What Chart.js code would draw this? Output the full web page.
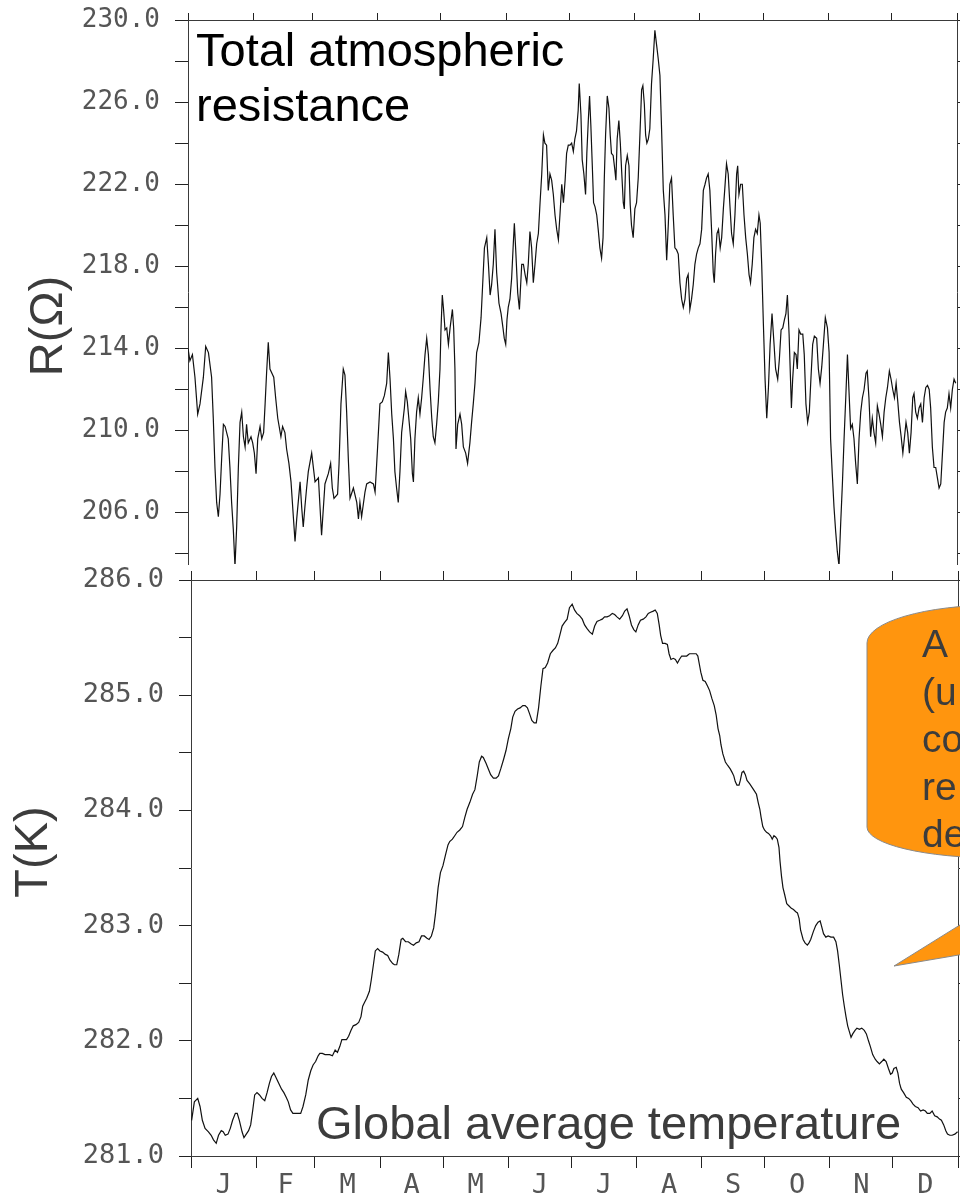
<!DOCTYPE html>
<html>
<head>
<meta charset="utf-8">
<script src="https://cdn.jsdelivr.net/npm/chart.js@4/dist/chart.umd.min.js"></script>
<style>
  html, body { margin: 0; padding: 0; background: #fff; }
  body { width: 960px; height: 1198px; position: relative; overflow: hidden; }
  #resistance { position: absolute; left: 0; top: 0; }
  #temperature { position: absolute; left: 0; top: 560px; }
</style>
</head>
<body>
<canvas id="resistance" width="960" height="580"></canvas>
<canvas id="temperature" width="960" height="638"></canvas>
<script>
// Calendar axis (day of year) shared by both panels
const monthStarts = [0, 31, 59, 90, 120, 151, 181, 212, 243, 273, 304, 334, 365];
const monthMids = [15.5, 45, 74.5, 105, 135.5, 166, 196.5, 227.5, 258, 288.5, 319, 349.5];
const monthLetters = ['J', 'F', 'M', 'A', 'M', 'J', 'J', 'A', 'S', 'O', 'N', 'D'];

// Resistance axis ticks (every 2 Ω, labelled every 4 Ω)
const resistanceTicks = [204, 206, 208, 210, 212, 214, 216, 218, 220, 222, 224, 226, 228, 230];
const resistanceLabelled = [206, 210, 214, 218, 222, 226, 230];

// Temperature axis ticks (every 0.5 K, labelled every 1 K)
const temperatureTicks = [281, 281.5, 282, 282.5, 283, 283.5, 284, 284.5, 285, 285.5, 286];
const temperatureLabelled = [281, 282, 283, 284, 285, 286];

// Total atmospheric resistance, day of year and value (Ω)
const resDay = [
  0, 0.9, 2.1, 3.3, 4.6, 5.7, 7.3, 8.4, 9.7, 11.2, 12.0, 12.8, 13.6, 14.4, 15.2, 16.0, 16.8, 17.6, 19.1, 19.9,
  20.7, 21.5, 22.3, 23.1, 23.9, 24.7, 25.5, 26.3, 27.1, 27.8, 28.6, 29.9, 30.7, 31.5, 32.3, 33.1, 34.2, 35.0, 35.9, 36.6,
  37.3, 38.1, 38.9, 40.7, 41.6, 42.6, 44.1, 44.9, 46.0, 46.8, 47.9, 48.9, 50.0, 50.8, 51.6, 53.2, 54.0, 54.7, 55.5, 56.3,
  57.1, 58.7, 60.3, 61.9, 62.7, 63.4, 65.0, 66.6, 67.7, 68.5, 69.3, 71.0, 71.7, 72.6, 73.7, 74.5, 75.3, 76.1, 76.9, 78.5,
  80.1, 80.9, 81.6, 82.4, 84.0, 84.8, 86.4, 88.0, 88.8, 90.0, 91.1, 92.2, 93.2, 94.3, 95.1, 95.9, 96.7, 97.5, 98.2, 99.0,
  99.8, 100.6, 101.4, 102.7, 103.3, 104.1, 105.7, 106.5, 107.0, 107.7, 108.5, 109.3, 110.1, 110.9, 111.7, 112.5, 113.3, 114.1, 114.9, 115.7,
  116.4, 117.2, 118.0, 118.8, 119.6, 120.1, 120.7, 121.3, 122.0, 122.8, 123.6, 124.4, 125.5, 126.1, 126.7, 127.2, 128.0, 129.1, 129.9, 130.7,
  131.8, 132.7, 133.8, 134.6, 135.4, 136.2, 137.0, 138.1, 139.1, 139.9, 140.7, 141.8, 142.6, 143.4, 144.1, 144.9, 145.7, 146.5, 147.6, 148.6,
  149.5, 150.1, 150.8, 151.4, 152.0, 152.8, 153.6, 154.4, 154.9, 155.5, 156.5, 157.3, 157.7, 158.4, 159.2, 160.0, 160.8, 161.5, 162.3, 163.1,
  163.9, 164.7, 165.5, 166.3, 167.1, 167.9, 168.7, 169.4, 170.2, 171.0, 171.8, 172.6, 173.4, 174.2, 175.0, 175.8, 176.6, 177.4, 178.2, 179.0,
  179.7, 180.5, 181.3, 182.1, 182.9, 183.6, 184.4, 185.2, 185.7, 186.5, 187.1, 187.9, 188.7, 189.3, 190.0, 190.6, 191.2, 191.9, 192.5, 193.2,
  194.0, 194.7, 195.5, 196.3, 197.0, 197.6, 198.2, 199.0, 199.8, 200.4, 201.0, 201.8, 202.6, 203.1, 203.7, 204.5, 205.2, 205.8, 206.6, 207.1,
  207.7, 208.5, 209.3, 209.9, 210.5, 211.3, 212.1, 212.9, 213.7, 214.5, 215.3, 215.9, 216.6, 217.2, 217.8, 218.5, 219.2, 220.0, 220.8, 221.6,
  222.4, 223.2, 224.0, 224.8, 225.6, 226.4, 227.2, 228.0, 228.7, 229.5, 230.3, 231.1, 231.9, 232.7, 233.5, 234.3, 235.1, 235.9, 236.7, 237.4,
  238.2, 239.0, 239.8, 240.6, 241.4, 242.2, 243.0, 243.8, 244.6, 245.4, 246.1, 246.9, 247.7, 248.5, 249.3, 249.8, 250.4, 251.1, 251.8, 252.6,
  253.3, 254.1, 254.8, 255.6, 256.4, 257.2, 258.0, 258.8, 259.6, 260.4, 260.9, 261.5, 262.3, 263.1, 263.9, 264.7, 265.5, 266.3, 267.0, 267.8,
  268.6, 269.4, 270.2, 271.0, 271.6, 272.3, 273.1, 273.9, 274.7, 275.5, 276.3, 277.2, 278.1, 278.9, 279.9, 280.7, 281.5, 282.3, 283.1, 283.8,
  284.5, 285.3, 286.1, 286.4, 287.0, 287.8, 288.6, 289.2, 290.0, 290.8, 291.8, 292.5, 293.3, 294.1, 294.9, 295.7, 296.5, 297.3, 298.4, 299.2,
  300.0, 300.8, 301.6, 302.5, 303.5, 304.3, 305.0, 305.8, 306.6, 307.4, 308.2, 309.0, 309.8, 310.6, 311.4, 312.2, 313.0, 313.7, 314.5, 315.3,
  316.1, 316.9, 317.7, 318.5, 319.3, 320.1, 320.9, 321.8, 322.4, 323.2, 324.0, 324.8, 325.6, 326.4, 327.2, 328.0, 328.8, 329.6, 330.4, 331.2,
  332.0, 332.9, 333.7, 334.5, 335.3, 336.1, 336.9, 337.7, 338.5, 339.3, 340.0, 340.8, 341.6, 342.4, 343.2, 344.0, 344.6, 345.4, 346.2, 347.0,
  347.8, 348.6, 349.4, 350.2, 351.0, 351.8, 352.5, 353.3, 354.1, 354.9, 355.7, 356.5, 357.3, 358.1, 358.9, 359.6, 360.4, 361.2, 362.0, 362.8,
  363.6, 364.4
];
const resOhm = [
  214.0, 213.4, 213.7, 212.6, 210.8, 211.3, 212.6, 214.1, 213.8, 212.6, 210.6, 208.2, 206.5, 205.8, 206.9, 208.7, 210.3, 210.2, 209.6, 208.2,
  206.5, 205.2, 203.4, 205.3, 208.2, 210.4, 210.9, 209.7, 209.2, 210.3, 209.4, 209.7, 209.4, 208.9, 207.9, 209.6, 210.2, 209.6, 209.9, 211.3,
  212.8, 214.3, 213.0, 212.6, 211.6, 210.6, 209.7, 210.2, 209.9, 209.1, 208.4, 207.5, 205.8, 204.6, 205.7, 207.5, 206.2, 205.3, 206.3, 207.2,
  208.0, 208.9, 207.5, 207.7, 206.2, 204.9, 207.4, 207.9, 208.4, 207.2, 206.7, 206.9, 208.4, 211.3, 213.0, 212.7, 210.9, 208.6, 206.7, 207.2,
  206.5, 205.7, 206.5, 205.8, 207.0, 207.4, 207.5, 207.4, 207.0, 209.2, 211.3, 211.4, 211.7, 212.3, 213.8, 212.5, 210.8, 209.6, 208.0, 207.2,
  206.5, 208.0, 209.9, 211.1, 211.9, 211.4, 209.6, 207.9, 207.5, 209.6, 210.9, 211.6, 210.8, 211.6, 212.6, 213.7, 214.5, 213.7, 212.0, 210.6,
  209.7, 209.4, 210.3, 211.4, 213.0, 215.0, 216.6, 215.9, 214.9, 215.0, 214.2, 215.0, 215.9, 215.0, 213.0, 209.1, 210.3, 210.8, 210.3, 209.2,
  208.9, 208.4, 209.4, 210.4, 211.3, 212.3, 213.8, 214.3, 215.5, 217.2, 218.9, 219.4, 218.1, 216.6, 217.1, 218.1, 219.8, 217.7, 216.2, 215.7,
  215.0, 214.5, 214.2, 215.4, 216.0, 216.4, 217.4, 219.1, 220.1, 218.9, 216.7, 215.9, 216.7, 218.1, 218.1, 217.6, 217.2, 218.1, 219.7, 218.9,
  217.2, 218.1, 219.1, 219.6, 221.1, 222.5, 224.4, 224.0, 223.9, 221.7, 222.5, 222.2, 221.5, 220.5, 219.8, 219.3, 220.6, 222.0, 221.1, 222.2,
  223.5, 223.9, 223.9, 224.0, 223.6, 224.2, 224.6, 225.6, 226.9, 225.4, 223.2, 222.5, 221.5, 223.5, 225.1, 226.3, 224.9, 222.9, 221.1, 220.9,
  220.5, 219.8, 218.9, 218.4, 219.4, 222.3, 224.4, 226.3, 225.7, 224.4, 223.5, 223.4, 222.7, 222.2, 224.2, 225.1, 224.0, 222.7, 221.1, 220.8,
  222.9, 223.4, 222.9, 221.0, 220.0, 219.4, 220.8, 221.1, 222.3, 224.4, 226.6, 226.8, 225.9, 224.4, 224.0, 224.2, 224.7, 226.9, 228.1, 229.5,
  228.8, 228.1, 227.3, 224.6, 221.7, 220.5, 218.3, 220.1, 222.0, 222.3, 220.5, 218.9, 218.8, 218.6, 217.2, 216.4, 216.0, 216.4, 217.4, 217.6,
  215.9, 216.4, 217.1, 218.1, 218.6, 218.9, 219.1, 219.8, 221.7, 222.0, 222.3, 222.5, 221.7, 219.8, 217.7, 217.2, 218.6, 219.6, 219.8, 218.9,
  219.4, 220.8, 221.8, 223.0, 222.5, 221.0, 219.6, 219.1, 220.5, 222.5, 222.9, 221.5, 222.0, 222.0, 220.5, 219.4, 218.6, 217.6, 217.2, 218.1,
  219.4, 219.8, 219.6, 220.5, 220.1, 218.1, 215.2, 212.5, 210.6, 212.1, 214.2, 215.7, 214.3, 213.0, 212.5, 213.5, 214.9, 215.0, 215.4, 215.7,
  216.6, 214.7, 212.1, 211.1, 212.5, 213.8, 213.7, 213.0, 214.9, 214.7, 214.7, 213.7, 211.3, 210.4, 210.9, 212.6, 214.2, 214.6, 214.5, 213.0,
  212.3, 213.1, 214.2, 215.5, 215.0, 213.8, 209.6, 207.9, 206.3, 205.1, 204.1, 203.4, 205.5, 207.4, 209.6, 211.6, 213.7, 212.0, 210.1, 210.3,
  209.6, 208.4, 207.4, 209.6, 210.9, 211.6, 212.0, 212.8, 212.9, 211.6, 209.7, 210.6, 209.9, 209.4, 211.2, 210.8, 210.3, 209.7, 210.9, 211.6,
  212.1, 212.9, 212.5, 212.0, 211.6, 212.3, 211.4, 210.4, 209.7, 208.9, 209.6, 210.4, 209.9, 208.9, 209.9, 211.6, 211.8, 210.9, 210.6, 211.1,
  211.3, 210.4, 211.6, 212.1, 212.2, 212.0, 211.1, 209.2, 208.2, 208.2, 207.7, 207.2, 207.4, 208.9, 210.4, 210.9, 211.1, 211.8, 211.1, 212.0,
  212.5, 212.3
];

// Global average temperature, day of year and value (K)
const tempDay = [
  0.3, 1.6, 3.2, 4.3, 5.4, 6.7, 8.3, 9.6, 10.7, 12.0, 13.1, 14.4, 15.3, 16.3, 17.6, 18.7, 19.8, 21.1, 22.0, 23.0,
  24.3, 25.2, 26.3, 27.4, 28.4, 29.4, 30.3, 31.4, 32.6, 33.8, 35.1, 36.2, 37.3, 38.3, 39.4, 40.5, 41.8, 43.1, 44.2, 45.3,
  46.3, 47.4, 48.5, 49.8, 51.1, 52.2, 53.3, 54.6, 55.8, 57.0, 58.1, 59.3, 60.5, 61.3, 62.5, 63.8, 64.9, 66.0, 67.3, 68.6,
  69.7, 70.8, 71.8, 72.9, 74.0, 75.0, 76.1, 77.2, 78.5, 79.8, 80.9, 81.7, 82.5, 83.6, 84.9, 85.8, 86.8, 87.7, 88.8, 89.9,
  91.2, 92.5, 93.6, 94.7, 96.0, 96.8, 97.9, 98.9, 100.0, 100.8, 102.1, 103.4, 104.8, 105.9, 107.2, 108.5, 109.7, 111.0, 112.3, 113.3,
  114.4, 115.5, 116.4, 117.6, 118.7, 119.9, 121.2, 122.3, 123.1, 124.4, 125.5, 126.6, 127.9, 129.2, 130.3, 131.4, 132.7, 134.0, 135.1, 136.2,
  137.2, 138.3, 139.1, 140.4, 141.5, 142.6, 143.9, 145.2, 146.3, 147.4, 148.7, 149.9, 151.0, 152.2, 153.1, 154.2, 155.4, 156.6, 157.9, 159.0,
  160.1, 161.1, 162.2, 163.3, 164.3, 165.4, 166.5, 167.5, 168.6, 169.7, 171.0, 172.3, 173.4, 174.5, 175.5, 176.6, 177.7, 179.0, 180.1, 181.4,
  182.5, 183.6, 184.9, 186.2, 187.3, 188.4, 189.7, 191.0, 192.1, 193.2, 194.5, 195.7, 196.8, 198.0, 199.2, 200.5, 201.6, 202.7, 204.0, 205.3,
  206.4, 207.5, 208.5, 209.6, 210.7, 211.7, 212.8, 213.9, 215.2, 216.5, 217.6, 218.7, 220.0, 220.9, 221.9, 222.8, 223.5, 224.4, 225.6, 226.7,
  227.5, 228.4, 229.5, 230.5, 231.5, 232.4, 233.5, 234.6, 235.9, 237.2, 238.3, 239.4, 240.4, 241.2, 242.0, 242.6, 243.6, 244.7, 245.8, 246.8,
  247.9, 249.0, 249.9, 250.8, 251.6, 252.2, 253.1, 254.3, 255.4, 256.6, 257.5, 258.3, 259.0, 259.8, 260.8, 261.4, 262.2, 263.0, 263.8, 264.6,
  265.9, 267.0, 268.1, 269.1, 269.9, 270.7, 271.3, 272.1, 272.9, 273.9, 274.8, 275.8, 276.6, 277.4, 278.2, 279.0, 279.8, 280.3, 281.0, 281.7,
  282.5, 283.5, 284.6, 285.7, 286.7, 287.8, 288.6, 289.4, 290.1, 291.3, 292.2, 293.3, 294.1, 294.9, 296.2, 297.3, 298.4, 299.4, 300.0, 301.0,
  302.1, 303.2, 304.5, 305.8, 306.9, 307.7, 308.5, 309.3, 310.1, 310.9, 311.7, 312.5, 313.3, 314.1, 314.9, 316.0, 316.9, 318.1, 319.2, 320.4,
  321.4, 322.4, 323.3, 324.4, 325.6, 326.5, 327.6, 328.7, 329.7, 330.8, 331.9, 332.9, 333.7, 334.5, 335.6, 336.4, 337.2, 338.0, 339.1, 340.4,
  341.5, 342.5, 343.6, 344.7, 346.0, 347.2, 348.4, 349.5, 350.4, 351.6, 352.7, 353.9, 355.1, 356.2, 357.1, 358.2, 359.2, 360.0, 361.1, 362.2,
  363.5, 364.8
];
const tempK = [
  281.31, 281.47, 281.50, 281.43, 281.31, 281.24, 281.21, 281.18, 281.14, 281.11, 281.18, 281.22, 281.21, 281.18, 281.19, 281.24, 281.31, 281.37, 281.37, 281.31,
  281.21, 281.16, 281.19, 281.22, 281.27, 281.40, 281.53, 281.55, 281.53, 281.50, 281.48, 281.55, 281.63, 281.69, 281.72, 281.68, 281.63, 281.58, 281.55, 281.51,
  281.47, 281.40, 281.37, 281.37, 281.37, 281.37, 281.43, 281.53, 281.66, 281.74, 281.79, 281.82, 281.87, 281.89, 281.89, 281.88, 281.88, 281.88, 281.87, 281.92,
  281.90, 281.95, 282.01, 282.01, 282.01, 282.04, 282.09, 282.13, 282.14, 282.16, 282.21, 282.30, 282.33, 282.37, 282.43, 282.53, 282.66, 282.78, 282.80, 282.78,
  282.77, 282.75, 282.74, 282.70, 282.67, 282.66, 282.66, 282.75, 282.88, 282.89, 282.86, 282.86, 282.84, 282.83, 282.85, 282.86, 282.91, 282.91, 282.89, 282.88,
  282.91, 282.98, 283.11, 283.33, 283.46, 283.52, 283.62, 283.70, 283.73, 283.75, 283.78, 283.81, 283.83, 283.86, 283.94, 284.01, 284.07, 284.14, 284.18, 284.30,
  284.42, 284.47, 284.46, 284.41, 284.36, 284.31, 284.28, 284.28, 284.30, 284.36, 284.44, 284.52, 284.62, 284.71, 284.81, 284.86, 284.88, 284.89, 284.91, 284.91,
  284.89, 284.84, 284.78, 284.76, 284.76, 284.89, 285.08, 285.23, 285.24, 285.28, 285.36, 285.39, 285.41, 285.45, 285.52, 285.60, 285.63, 285.66, 285.76, 285.79,
  285.74, 285.71, 285.69, 285.66, 285.61, 285.58, 285.55, 285.53, 285.60, 285.64, 285.65, 285.66, 285.68, 285.68, 285.69, 285.71, 285.70, 285.68, 285.66, 285.69,
  285.73, 285.75, 285.69, 285.61, 285.57, 285.55, 285.61, 285.65, 285.66, 285.68, 285.71, 285.72, 285.73, 285.74, 285.71, 285.61, 285.52, 285.45, 285.45, 285.44,
  285.36, 285.31, 285.32, 285.31, 285.28, 285.31, 285.34, 285.34, 285.34, 285.36, 285.36, 285.36, 285.36, 285.34, 285.26, 285.20, 285.13, 285.12, 285.08, 285.04,
  284.97, 284.91, 284.83, 284.71, 284.65, 284.57, 284.49, 284.42, 284.39, 284.36, 284.33, 284.30, 284.25, 284.22, 284.22, 284.26, 284.33, 284.34, 284.31, 284.26,
  284.23, 284.20, 284.17, 284.14, 284.07, 284.01, 283.94, 283.86, 283.83, 283.81, 283.80, 283.78, 283.75, 283.78, 283.77, 283.75, 283.68, 283.56, 283.43, 283.33,
  283.27, 283.19, 283.17, 283.15, 283.14, 283.12, 283.11, 283.06, 282.96, 282.88, 282.85, 282.83, 282.85, 282.88, 282.95, 283.00, 283.03, 283.04, 283.00, 282.93,
  282.90, 282.91, 282.90, 282.90, 282.86, 282.78, 282.66, 282.53, 282.40, 282.30, 282.21, 282.13, 282.08, 282.03, 282.06, 282.09, 282.11, 282.10, 282.11, 282.09,
  282.06, 282.00, 281.95, 281.88, 281.84, 281.82, 281.80, 281.82, 281.84, 281.82, 281.76, 281.71, 281.72, 281.76, 281.77, 281.72, 281.63, 281.58, 281.55, 281.51,
  281.50, 281.48, 281.45, 281.43, 281.42, 281.39, 281.40, 281.39, 281.37, 281.37, 281.39, 281.35, 281.34, 281.32, 281.31, 281.27, 281.22, 281.19, 281.18, 281.18,
  281.19, 281.21
];

const AXIS = '#3a3a3a';
const TICK = '#222';
const LABEL = '#3c3c3c';
const TICK_TEXT = '#555';
const MONO = '"DejaVu Sans Mono", monospace';
const SANS = '"Liberation Sans", Arial, sans-serif';

const setTicks = values => scale => { scale.ticks = values.map(v => ({ value: v })); };
// fixed axis box sizes, without the extra room Chart.js reserves for edge labels
function noPad(scale) { scale.paddingTop = 0; scale.paddingBottom = 0; scale.paddingLeft = 0; scale.paddingRight = 0; }
const fixWidth = w => scale => { scale.width = w; noPad(scale); };
const fixHeight = h => scale => { scale.height = h; noPad(scale); };

// Month boundary ticks on the upper frame of each panel
function monthFrameAxis(tickLength) {
  return {
    type: 'linear', position: 'top', min: 0, max: 365,
    afterBuildTicks: setTicks(monthStarts), afterFit: fixHeight(20),
    ticks: { display: false, autoSkip: false },
    grid: { drawOnChartArea: false, drawTicks: true, tickLength, tickColor: TICK },
    border: { display: true, color: AXIS, width: 1 }
  };
}

function valueAxis(position, min, max, ticks, labelled, width, fontSize, tickLength) {
  return {
    type: 'linear', position, min, max,
    afterBuildTicks: setTicks(ticks), afterFit: fixWidth(width),
    ticks: {
      display: position === 'left', autoSkip: false, padding: 15, color: TICK_TEXT,
      font: { family: MONO, size: fontSize },
      callback: v => labelled.includes(v) ? v.toFixed(1) : ''
    },
    grid: { drawOnChartArea: false, drawTicks: true, tickLength, tickColor: TICK },
    border: { display: true, color: AXIS, width: 1 }
  };
}

function lineDataset(days, values, yAxisID) {
  return {
    data: days.map((d, i) => ({ x: d, y: values[i] })),
    borderColor: '#111', borderWidth: 1.2, pointRadius: 0, tension: 0,
    xAxisID: 'x', yAxisID
  };
}

// Annotation texts drawn on top of the panels
const textPlugin = (id, draw) => ({ id, afterDraw(chart) { const c = chart.ctx; c.save(); draw(c); c.restore(); } });

function rotatedLabel(c, text, baselineX, centerY) {
  c.translate(baselineX, centerY);
  c.rotate(-Math.PI / 2);
  c.font = '47px ' + SANS;
  c.fillStyle = LABEL;
  c.textAlign = 'center';
  c.textBaseline = 'alphabetic';
  c.fillText(text, 0, 0);
}

new Chart(document.getElementById('resistance'), {
  type: 'line',
  data: { datasets: [lineDataset(resDay, resOhm, 'y')] },
  options: {
    responsive: false, animation: false,
    layout: { padding: { left: 0, top: 0, right: 0, bottom: 16 } },
    plugins: { legend: { display: false }, tooltip: { enabled: false } },
    scales: {
      x: monthFrameAxis(7),
      y: valueAxis('left', 203.5, 230, resistanceTicks, resistanceLabelled, 188, 26, 13),
      yRight: valueAxis('right', 203.5, 230, resistanceTicks, resistanceLabelled, 3, 26, 6)
    }
  },
  plugins: [textPlugin('resistanceText', c => {
    c.font = '47px ' + SANS;
    c.fillStyle = '#000';
    c.textBaseline = 'alphabetic';
    c.fillText('Total atmospheric', 196, 66);
    c.fillText('resistance', 196, 121);
    rotatedLabel(c, 'R(\u03A9)', 62, 326);
  })]
});

const calloutLines = ['A', '(u', 'co', 're', 'de'];

new Chart(document.getElementById('temperature'), {
  type: 'line',
  data: { datasets: [lineDataset(tempDay, tempK, 'y')] },
  options: {
    responsive: false, animation: false,
    layout: { padding: 0 },
    plugins: { legend: { display: false }, tooltip: { enabled: false } },
    scales: {
      xTop: monthFrameAxis(9),
      x: {
        type: 'linear', position: 'bottom', min: 0, max: 365,
        afterBuildTicks: setTicks(monthStarts.concat(monthMids).sort((a, b) => a - b)),
        afterFit: fixHeight(42),
        ticks: {
          autoSkip: false, maxRotation: 0, padding: 2, color: TICK_TEXT,
          font: { family: MONO, size: 27 },
          callback: v => { const k = monthMids.indexOf(v); return k >= 0 ? monthLetters[k] : ''; }
        },
        grid: {
          drawOnChartArea: false, drawTicks: true, tickLength: 12,
          tickColor: ctx => (ctx.tick && monthMids.includes(ctx.tick.value)) ? 'rgba(0,0,0,0)' : TICK
        },
        border: { display: true, color: AXIS, width: 1 }
      },
      y: valueAxis('left', 281, 286, temperatureTicks, temperatureLabelled, 191, 27, 12),
      yRight: valueAxis('right', 281, 286, temperatureTicks, temperatureLabelled, 2, 27, 6)
    }
  },
  plugins: [textPlugin('temperatureText', c => {
    c.translate(0, -560); // page coordinates
    c.font = '47px ' + SANS;
    c.fillStyle = LABEL;
    c.textBaseline = 'alphabetic';
    c.fillText('Global average temperature', 316, 1139);

    // speech-bubble callout on the right edge
    c.fillStyle = '#ff950e';
    c.strokeStyle = '#8a8a8a';
    c.lineWidth = 1;
    c.beginPath();
    c.moveTo(894, 966);
    c.lineTo(1000, 900);
    c.lineTo(1000, 948);
    c.closePath();
    c.fill();
    c.stroke();

    const L = 867;
    c.beginPath();
    c.moveTo(L, 827);
    c.lineTo(L, 643);
    c.ellipse(L + 130, 643, 130, 38, 0, Math.PI, 1.5 * Math.PI);
    c.lineTo(1100, 605);
    c.lineTo(1100, 858);
    c.lineTo(L + 130, 858);
    c.ellipse(L + 130, 827, 130, 31, 0, 0.5 * Math.PI, Math.PI);
    c.closePath();
    c.fill();
    c.stroke();

    c.fillStyle = LABEL;
    c.font = '39px ' + SANS;
    calloutLines.forEach((t, i) => c.fillText(t, 922, 657 + i * 47.5));
    c.restore();
    c.save();
    rotatedLabel(c, 'T(K)', 47, 852 - 560);
  })]
});
</script>
</body>
</html>
